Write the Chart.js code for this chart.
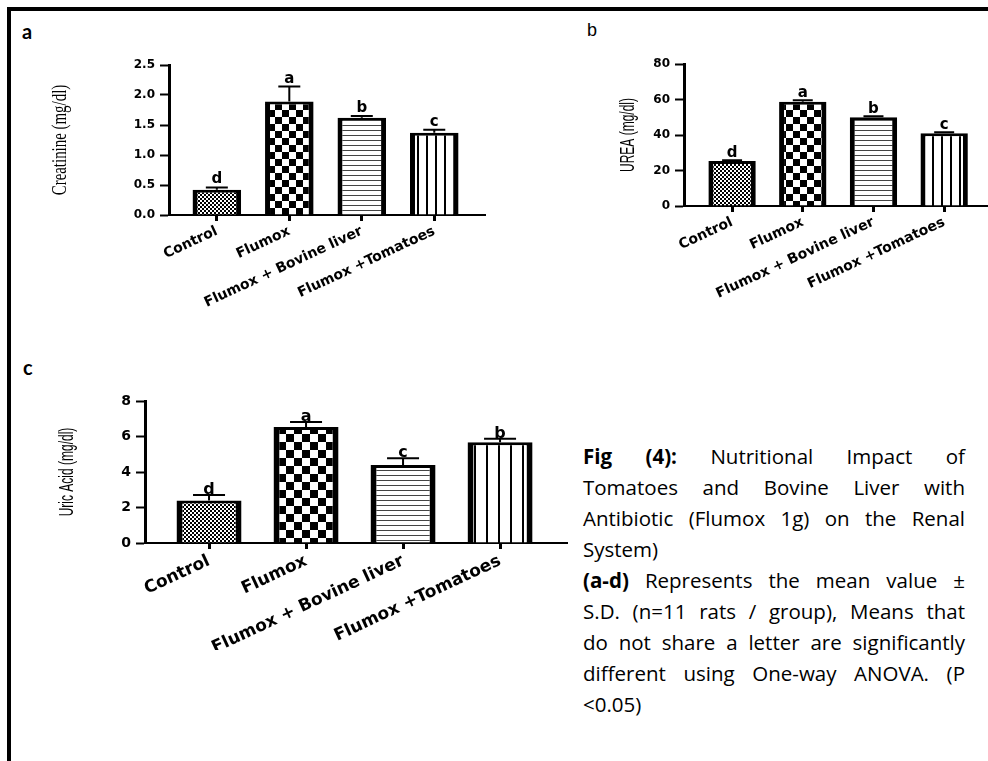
<!DOCTYPE html>
<html>
<head>
<meta charset="utf-8">
<script src="https://cdn.jsdelivr.net/npm/chart.js@4.4.0/dist/chart.umd.min.js"></script>
<style>
  html, body { margin: 0; padding: 0; background: #fff; }
  body { width: 988px; height: 761px; position: relative; overflow: hidden; }
  #frame { position: absolute; left: 7px; top: 7px; width: 981px; height: 754px;
           border-top: 4px solid #000; border-left: 4px solid #000; box-sizing: border-box; }
  canvas { position: absolute; }
  .tag { position: absolute; line-height: 1; color: #000; }
  #caption { position: absolute; left: 583px; top: 441px; width: 382px;
             font-family: "Open Sans", Lato, sans-serif; font-size: 20.5px; line-height: 31px; color: #000; }
  #caption div { white-space: nowrap; }
  #caption .j { text-align: justify; text-align-last: justify; }
</style>
</head>
<body>
<div id="frame"></div>
<div class="tag" style="left:22px; top:19px; font:bold 20px Lato, sans-serif;">a</div>
<div class="tag" style="left:587px; top:20px; font:18px 'Liberation Sans', Arial, sans-serif;">b</div>
<div class="tag" style="left:23px; top:355px; font:bold 20px Lato, sans-serif;">c</div>

<canvas id="chartA" width="470" height="290" style="left:30px; top:40px;"></canvas>
<canvas id="chartB" width="398" height="280" style="left:590px; top:40px;"></canvas>
<canvas id="chartC" width="545" height="280" style="left:30px; top:370px;"></canvas>

<div id="caption">
  <div class="j"><b>Fig (4):</b> Nutritional Impact of</div>
  <div class="j">Tomatoes and Bovine Liver with</div>
  <div class="j">Antibiotic (Flumox 1g) on the Renal</div>
  <div>System)</div>
  <div class="j"><b>(a-d)</b> Represents the mean value ±</div>
  <div class="j">S.D. (n=11 rats / group), Means that</div>
  <div class="j">do not share a letter are significantly</div>
  <div class="j">different using One-way ANOVA. (P</div>
  <div>&lt;0.05)</div>
</div>

<script>
// Groups (x categories)
const groups = ["Control", "Flumox", "Flumox + Bovine liver", "Flumox +Tomatoes"];

// a - Creatinine
const creatinineMean = [0.42, 1.89, 1.62, 1.37];
const creatinineSD = [0.04, 0.25, 0.03, 0.05];
const creatinineLetters = ["d", "a", "b", "c"];
const creatinineTicks = [0, 0.5, 1.0, 1.5, 2.0, 2.5];

// b - Urea
const ureaMean = [25.3, 58.8, 50.0, 41.0];
const ureaSD = [0.5, 0.8, 0.5, 0.6];
const ureaLetters = ["d", "a", "b", "c"];
const ureaTicks = [0, 20, 40, 60, 80];

// c - Uric acid
const uricMean = [2.39, 6.54, 4.39, 5.68];
const uricSD = [0.32, 0.28, 0.38, 0.19];
const uricLetters = ["d", "a", "c", "b"];
const uricTicks = [0, 2, 4, 6, 8];

// small tile patterns for the bar fills
function makePattern(kind, size) {
  const c = document.createElement('canvas');
  const g = c.getContext('2d');
  if (kind === 'fine') {
    c.width = 4; c.height = 4;
    g.fillStyle = '#fff'; g.fillRect(0, 0, 4, 4);
    g.fillStyle = '#000'; g.fillRect(0, 0, 2, 2); g.fillRect(2, 2, 2, 2);
  } else if (kind === 'checker') {
    c.width = size * 2; c.height = size * 2;
    g.fillStyle = '#fff'; g.fillRect(0, 0, c.width, c.height);
    g.fillStyle = '#000'; g.fillRect(0, 0, size, size); g.fillRect(size, size, size, size);
  } else if (kind === 'hlines') {
    c.width = 4; c.height = size;
    g.fillStyle = '#fff'; g.fillRect(0, 0, 4, size);
    g.fillStyle = '#444'; g.fillRect(0, 0, 4, 1);
  } else {
    c.width = size; c.height = 4;
    g.fillStyle = '#fff'; g.fillRect(0, 0, size, 4);
    g.fillStyle = '#000'; g.fillRect(0, 0, 2, 4);
  }
  return g.createPattern(c, 'repeat');
}

// error bars (upper only) and significance letters
function errorPlugin(means, sd, letters, cap, gap, font) {
  return {
    id: 'errorBars',
    afterDatasetsDraw(chart) {
      const { ctx, scales: { x, y } } = chart;
      ctx.save();
      ctx.strokeStyle = '#000';
      ctx.fillStyle = '#000';
      ctx.lineWidth = 2;
      ctx.font = font;
      ctx.textAlign = 'center';
      ctx.textBaseline = 'alphabetic';
      means.forEach((m, i) => {
        const px = x.getPixelForValue(i);
        const yBar = y.getPixelForValue(m);
        const yTop = y.getPixelForValue(m + sd[i]);
        ctx.beginPath();
        ctx.moveTo(px, yBar); ctx.lineTo(px, yTop);
        ctx.moveTo(px - cap / 2, yTop); ctx.lineTo(px + cap / 2, yTop);
        ctx.stroke();
        ctx.fillText(letters[i], px, yTop - gap);
      });
      ctx.restore();
    }
  };
}

// condensed vertical axis title
function titlePlugin(text, font, cx, squeeze) {
  return {
    id: 'yTitle',
    afterDraw(chart) {
      const { ctx, chartArea } = chart;
      ctx.save();
      ctx.translate(cx, (chartArea.top + chartArea.bottom) / 2);
      ctx.rotate(-Math.PI / 2);
      ctx.scale(squeeze, 1);
      ctx.font = font;
      ctx.fillStyle = '#000';
      ctx.textAlign = 'center';
      ctx.textBaseline = 'middle';
      ctx.fillText(text, 0, 0);
      ctx.restore();
    }
  };
}

const tickFamily = "'DejaVu Sans', 'Liberation Sans', Arial, sans-serif";

function buildChart(id, means, sd, letters, yTicks, s) {
  const ctx = document.getElementById(id).getContext('2d');
  return new Chart(ctx, {
    type: 'bar',
    data: {
      datasets: [{
        data: means.map((v, i) => ({ x: i, y: v })),
        backgroundColor: [
          makePattern('fine'),
          makePattern('checker', s.cell),
          makePattern('hlines', 5),
          makePattern('vlines', s.vgap)
        ],
        borderColor: '#000',
        borderWidth: { left: s.side, right: s.side, top: 3, bottom: 0 },
        borderSkipped: 'start',
        categoryPercentage: 1,
        barPercentage: 0.67
      }]
    },
    options: {
      responsive: false,
      animation: false,
      layout: { padding: s.pad },
      plugins: { legend: { display: false }, tooltip: { enabled: false } },
      scales: {
        x: {
          type: 'linear',
          offset: false,
          min: s.xMin,
          max: s.xMax,
          afterBuildTicks: scale => { scale.ticks = groups.map((g, i) => ({ value: i })); },
          afterFit: scale => { scale.height = s.xHeight; },
          border: { color: '#000', width: 2 },
          grid: { offset: false, drawOnChartArea: false, drawTicks: true, tickLength: 6, tickWidth: 3, tickColor: '#000' },
          ticks: {
            autoSkip: false,
            minRotation: 25,
            maxRotation: 25,
            padding: 2,
            color: '#000',
            font: { family: tickFamily, size: s.labelSize, weight: 'bold' },
            callback: v => groups[v]
          }
        },
        y: {
          min: yTicks[0],
          max: yTicks[yTicks.length - 1],
          afterBuildTicks: scale => { scale.ticks = yTicks.map(v => ({ value: v })); },
          afterFit: scale => { scale.width = s.yWidth; },
          border: { color: '#000', width: 3 },
          grid: { drawOnChartArea: false, drawTicks: true, tickLength: 9, tickWidth: 2, tickColor: '#000' },
          ticks: {
            padding: 5,
            color: '#000',
            font: { family: tickFamily, size: s.tickSize, weight: 'bold' },
            callback: v => s.decimals ? v.toFixed(s.decimals) : v
          }
        }
      }
    },
    plugins: [
      errorPlugin(means, sd, letters, s.cap, s.gap, 'bold ' + s.letterSize + 'px ' + tickFamily),
      titlePlugin(s.title, s.titleFont, s.titleX, s.squeeze)
    ]
  });
}

buildChart('chartA', creatinineMean, creatinineSD, creatinineLetters, creatinineTicks, {
  xMin: -0.66, xMax: 3.7, yWidth: 139, xHeight: 115,
  pad: { top: 25, right: 15, left: 0, bottom: 0 },
  title: 'Creatinine (mg/dl)', titleFont: "21px 'Liberation Serif', serif", titleX: 30, squeeze: 0.71,
  tickSize: 12, labelSize: 14, letterSize: 15,
  cap: 22, gap: 4, side: 5, cell: 7, vgap: 9, decimals: 1
});

buildChart('chartB', ureaMean, ureaSD, ureaLetters, ureaTicks, {
  xMin: -0.68, xMax: 3.62, yWidth: 94, xHeight: 114,
  pad: { top: 24, right: 0, left: 0, bottom: 0 },
  title: 'UREA (mg/dl)', titleFont: "20px 'Liberation Sans', Arial, sans-serif", titleX: 38, squeeze: 0.6,
  tickSize: 12, labelSize: 14, letterSize: 15,
  cap: 20, gap: 3, side: 5, cell: 7, vgap: 9, decimals: 0
});

buildChart('chartC', uricMean, uricSD, uricLetters, uricTicks, {
  xMin: -0.66, xMax: 3.69, yWidth: 115, xHeight: 107,
  pad: { top: 31, right: 8, left: 0, bottom: 0 },
  title: 'Uric Acid (mg/dl)', titleFont: "20px 'Liberation Sans', Arial, sans-serif", titleX: 37, squeeze: 0.6,
  tickSize: 14, labelSize: 17, letterSize: 16,
  cap: 32, gap: 1, side: 6, cell: 8, vgap: 12, decimals: 0
});
</script>
</body>
</html>
